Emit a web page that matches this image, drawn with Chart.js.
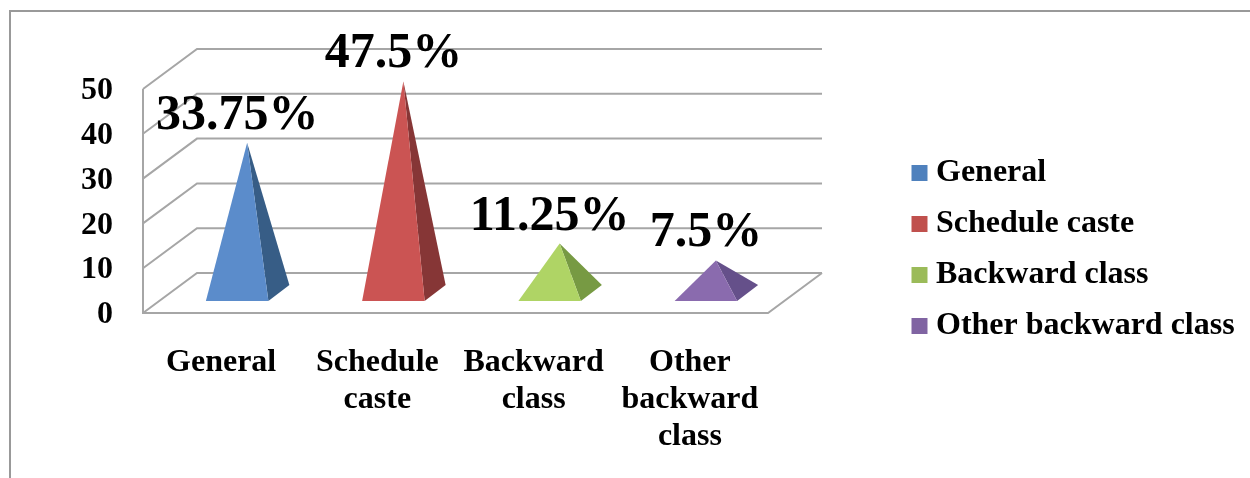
<!DOCTYPE html>
<html>
<head>
<meta charset="utf-8">
<style>
  html, body { margin: 0; padding: 0; background: #fff; overflow: hidden; }
  #frame { position: absolute; left: 9px; top: 10px; right: 0; bottom: 0; border-left: 2px solid #999; border-top: 2px solid #999; }
  canvas { position: absolute; left: 0; top: 0; filter: blur(0.5px); }
</style>
<script src="https://cdn.jsdelivr.net/npm/chart.js@4/dist/chart.umd.min.js"></script>
</head>
<body>
<div id="frame"></div>
<canvas id="chart" width="1250" height="478"></canvas>
<script>
// 3D pyramid column chart

const categories = [['General'], ['Schedule', 'caste'], ['Backward', 'class'], ['Other', 'backward', 'class']];
const legendNames = ['General', 'Schedule caste', 'Backward class', 'Other backward class'];
const values = [33.75, 47.5, 11.25, 7.5];
const valueLabels = ['33.75%', '47.5%', '11.25%', '7.5%'];
const legendColors = ['#4f81bd', '#c0504d', '#9bbb59', '#8064a2'];
const frontColors = ['#5b8ccb', '#cb5453', '#afd465', '#8a6bae'];
const sideColors = ['#375d86', '#863636', '#779a43', '#65508a'];

const FONT = '"Liberation Serif", serif';
const DEPTH_X = 54, DEPTH_Y = 40;
const WALL = '#a6a6a6';

function poly(ctx, pts, color) {
  ctx.fillStyle = color;
  ctx.beginPath();
  pts.forEach((p, i) => (i ? ctx.lineTo(p[0], p[1]) : ctx.moveTo(p[0], p[1])));
  ctx.closePath();
  ctx.fill();
}

const pyramid3d = {
  id: 'pyramid3d',
  afterLayout(chart) {
    // keep the legend away from the plot, the way the original sits
    const lg = chart.legend;
    lg.left = 900;
    lg.right = 1250;
    lg.width = lg.right - lg.left;
    lg.top = 138;
    lg.bottom = lg.top + lg.height;
  },
  beforeDatasetsDraw(chart) {
    const ctx = chart.ctx, x = chart.scales.x, y = chart.scales.y;
    ctx.save();
    ctx.strokeStyle = WALL;
    ctx.lineWidth = 2;
    ctx.beginPath();
    y.ticks.forEach(t => {
      const py = y.getPixelForValue(t.value);
      ctx.moveTo(x.left, py);
      ctx.lineTo(x.left + DEPTH_X, py - DEPTH_Y);
      ctx.lineTo(x.right + DEPTH_X, py - DEPTH_Y);
    });
    const y0 = y.getPixelForValue(0);
    ctx.moveTo(x.left, y.getPixelForValue(50));
    ctx.lineTo(x.left, y0);
    ctx.lineTo(x.right, y0);
    ctx.lineTo(x.right + DEPTH_X, y0 - DEPTH_Y);
    ctx.stroke();
    ctx.restore();
  },
  afterDatasetsDraw(chart) {
    const ctx = chart.ctx, y = chart.scales.y;
    const y0 = y.getPixelForValue(0);
    const baseY = y0 - 12;
    chart.getDatasetMeta(0).data.forEach((bar, i) => {
      const l = bar.x + 16 - bar.width / 2, r = l + bar.width;
      const apex = [bar.x + 26, bar.y - 19];
      poly(ctx, [apex, [r, baseY], [r + 21, baseY - 16]], sideColors[i]);
      poly(ctx, [apex, [l, baseY], [r, baseY]], frontColors[i]);
      ctx.save();
      ctx.fillStyle = '#000';
      ctx.font = 'bold 50px ' + FONT;
      ctx.textAlign = 'center';
      ctx.textBaseline = 'alphabetic';
      ctx.fillText(valueLabels[i], bar.x + 16, apex[1] - 14);
      ctx.restore();
    });
  }
};

new Chart(document.getElementById('chart'), {
  type: 'bar',
  data: {
    labels: categories,
    datasets: [{
      data: values,
      backgroundColor: 'rgba(0,0,0,0)',
      barPercentage: 0.4,
      categoryPercentage: 1,
    }],
  },
  options: {
    responsive: false,
    animation: false,
    layout: { padding: { left: 0, top: 89, bottom: 0, right: 382 } },
    plugins: {
      tooltip: { enabled: false },
      legend: {
        position: 'right',
        align: 'start',
        maxWidth: 100,
        labels: {
          usePointStyle: true,
          pointStyle: 'rect',
          boxWidth: 1,
          boxHeight: 16,
          padding: 19,
          color: '#000',
          font: { family: FONT, size: 32, weight: 'bold' },
          generateLabels: () => legendNames.map((text, i) => ({
            text,
            fillStyle: legendColors[i],
            strokeStyle: legendColors[i],
            lineWidth: 0,
            pointStyle: 'rect',
            index: i,
          })),
        },
      },
    },
    scales: {
      x: {
        grid: { display: false },
        border: { display: false },
        afterFit(s) { s.height = 165; },
        ticks: {
          padding: 23,
          maxRotation: 0,
          autoSkip: false,
          color: '#000',
          font: { family: FONT, size: 32, weight: 'bold', lineHeight: 1.16 },
        },
      },
      y: {
        min: 0,
        max: 50,
        grid: { display: false },
        border: { display: false },
        afterFit(s) { s.width = 143; },
        ticks: {
          stepSize: 10,
          padding: 22,
          labelOffset: 2,
          color: '#000',
          font: { family: FONT, size: 32, weight: 'bold' },
        },
      },
    },
  },
  plugins: [pyramid3d],
});
</script>
</body>
</html>
